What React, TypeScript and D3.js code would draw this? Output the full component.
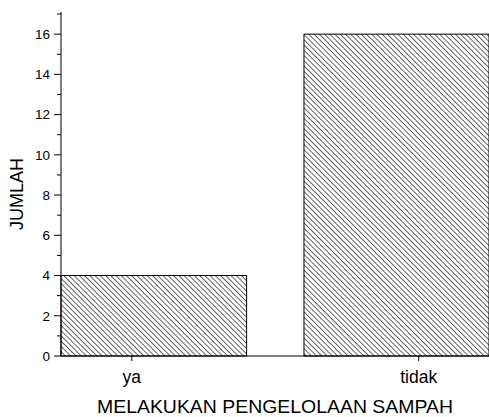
import * as d3 from "d3";
import React, {useEffect, useRef} from "react";

const categories = ["ya", "tidak"];
const values = [4, 16];
const yTicks = [0, 2, 4, 6, 8, 10, 12, 14, 16];
const yMinorTicks = [1, 3, 5, 7, 9, 11, 13, 15, 17];

const App = () => {
    const svgRef = useRef(null);
    const width = 489;
    const height = 417;
    const margin = {top: 12, right: 0, bottom: 61, left: 61};
    const font = "Liberation Sans, Arial, sans-serif";

    useEffect(() => {
        const innerW = width - margin.left - margin.right;
        const innerH = height - margin.top - margin.bottom;

        // categories sit at positions 1 and 2
        const xScale = d3.scaleLinear().domain([0.753, 2.245]).range([0, innerW]);
        const yScale = d3.scaleLinear().domain([0, 17.1]).range([innerH, 0]);

        const svgEl = d3.select(svgRef.current);
        svgEl.selectAll("*").remove();

        const defs = svgEl.append("defs");
        const pat = defs.append("pattern")
            .attr("id", "hatch")
            .attr("patternUnits", "userSpaceOnUse")
            .attr("width", 3.7)
            .attr("height", 4)
            .attr("patternTransform", "rotate(-45)");
        pat.append("line")
            .attr("x1", 0).attr("y1", 0).attr("x2", 0).attr("y2", 4)
            .attr("stroke", "#111")
            .attr("stroke-width", 1.3);

        const svg = svgEl.append("g")
            .attr("transform", `translate(${margin.left},${margin.top})`);

        // bars
        const dom = xScale.domain();
        svg.selectAll(".bar")
            .data(values)
            .enter()
            .append("rect")
            .attr("x", (d, i) => xScale(i === 0 ? dom[0] : 1.6))
            .attr("width", (d, i) => i === 0 ? xScale(1.4) - xScale(dom[0]) : xScale(dom[1]) - xScale(1.6))
            .attr("y", d => yScale(d))
            .attr("height", d => innerH - yScale(d))
            .attr("fill", "url(#hatch)")
            .attr("stroke", "black")
            .attr("stroke-width", 1);

        // y axis
        const yAxis = svg.append("g");
        yAxis.append("line")
            .attr("x1", 0).attr("x2", 0)
            .attr("y1", yScale(17.1)).attr("y2", innerH)
            .attr("stroke", "black");
        yAxis.selectAll(".major")
            .data(yTicks)
            .enter()
            .append("line")
            .attr("x1", -7).attr("x2", 0)
            .attr("y1", d => yScale(d)).attr("y2", d => yScale(d))
            .attr("stroke", "black");
        yAxis.selectAll(".minor")
            .data(yMinorTicks)
            .enter()
            .append("line")
            .attr("x1", -4).attr("x2", 0)
            .attr("y1", d => yScale(d)).attr("y2", d => yScale(d))
            .attr("stroke", "black");
        yAxis.selectAll(".lbl")
            .data(yTicks)
            .enter()
            .append("text")
            .attr("x", -11)
            .attr("y", d => yScale(d))
            .attr("dy", "0.36em")
            .attr("text-anchor", "end")
            .attr("font-family", font)
            .attr("font-size", 13.5)
            .text(d => d);

        // x axis
        const xAxis = svg.append("g").attr("transform", `translate(0,${innerH})`);
        xAxis.append("line")
            .attr("x1", 0).attr("x2", innerW)
            .attr("stroke", "black");
        xAxis.selectAll(".tick")
            .data(categories)
            .enter()
            .append("line")
            .attr("x1", (d, i) => xScale(i + 1)).attr("x2", (d, i) => xScale(i + 1))
            .attr("y1", 0).attr("y2", 5)
            .attr("stroke", "black");
        xAxis.selectAll(".lbl")
            .data(categories)
            .enter()
            .append("text")
            .attr("x", (d, i) => xScale(i + 1))
            .attr("y", 27)
            .attr("text-anchor", "middle")
            .attr("font-family", font)
            .attr("font-size", 17.5)
            .text(d => d);

        // titles
        svg.append("text")
            .attr("x", 214)
            .attr("y", innerH + 57)
            .attr("text-anchor", "middle")
            .attr("font-family", font)
            .attr("font-size", 18.5)
            .attr("textLength", 356)
            .attr("lengthAdjust", "spacingAndGlyphs")
            .text("MELAKUKAN PENGELOLAAN SAMPAH");

        svg.append("text")
            .attr("transform", `translate(${-38},${182}) rotate(-90)`)
            .attr("text-anchor", "middle")
            .attr("font-family", font)
            .attr("font-size", 18)
            .text("JUMLAH");
    }, []);

    return (
        <svg ref={svgRef} width={width} height={height}
             style={{position: "absolute", left: 0, top: 0}}/>
    );
};

export default App;
